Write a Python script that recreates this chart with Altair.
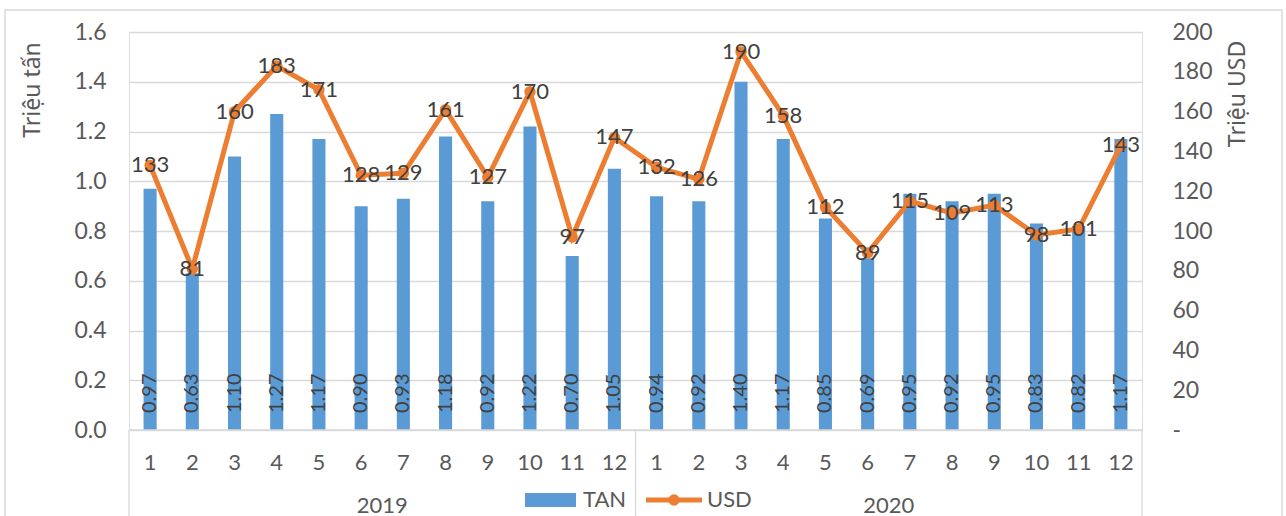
import altair as alt
import pandas as pd

# Monthly values, 2019-2020
months = ["1", "2", "3", "4", "5", "6", "7", "8", "9", "10", "11", "12",
          "1", "2", "3", "4", "5", "6", "7", "8", "9", "10", "11", "12"]
years = ["2019"] * 12 + ["2020"] * 12
tan = [0.97, 0.63, 1.10, 1.27, 1.17, 0.90, 0.93, 1.18, 0.92, 1.22, 0.70, 1.05,
       0.94, 0.92, 1.40, 1.17, 0.85, 0.69, 0.95, 0.92, 0.95, 0.83, 0.82, 1.17]
usd = [133, 81, 160, 183, 171, 128, 129, 161, 127, 170, 97, 147,
       132, 126, 190, 158, 112, 89, 115, 109, 113, 98, 101, 143]

left_ticks = [0.0, 0.2, 0.4, 0.6, 0.8, 1.0, 1.2, 1.4, 1.6]
right_ticks = [0, 20, 40, 60, 80, 100, 120, 140, 160, 180, 200]

df = pd.DataFrame({"idx": list(range(len(tan))), "month": months,
                   "year": years, "TAN": tan, "USD": usd})

W, H = 1013, 398
BLUE = "#5B9BD5"
ORANGE = "#ED7D31"
GRID = "#d9d9d9"
TEXT = "#404040"
AXIS_TEXT = "#595959"
FS = 22      # category and line labels
FS_TICK = 23 # value axis labels
FS_BAR = 20  # labels inside the bars
FS_TITLE = 23

x = alt.X("idx:O", axis=None, sort=None,
          scale=alt.Scale(paddingInner=0.69, paddingOuter=0.345))

base = alt.Chart(df)

# --- bars (left axis, million tonnes) ---
y_tan = alt.Y(
    "TAN:Q",
    scale=alt.Scale(domain=[0, 1.6], nice=False, zero=True),
    axis=alt.Axis(values=left_ticks, format=".1f", title=None,
                  grid=True, gridColor=GRID, gridWidth=1.3),
)
bars = base.mark_bar(color=BLUE).encode(x=x, y=y_tan)
bar_labels = base.mark_text(angle=270, align="left", baseline="middle", dx=17,
                            fontSize=FS_BAR, color=TEXT).encode(
    x=x, y=alt.datum(0), text=alt.Text("TAN:Q", format=".2f"))
tan_layer = alt.layer(bars, bar_labels)

# --- line (right axis, million USD) ---
y_usd = alt.Y(
    "USD:Q",
    scale=alt.Scale(domain=[0, 200], nice=False, zero=True),
    axis=alt.Axis(orient="right", values=right_ticks, grid=False,
                  labelExpr="datum.value == 0 ? '-' : datum.label",
                  title=None),
)
line = base.mark_line(color=ORANGE, strokeWidth=5).encode(x=x, y=y_usd)
pts = base.mark_point(filled=True, size=130, opacity=1, color=ORANGE).encode(
    x=x, y=y_usd)
usd_labels = base.mark_text(fontSize=FS, color=TEXT, baseline="middle",
                            align="center").encode(
    x=x, y=y_usd, text="USD:Q")
usd_layer = alt.layer(line, pts, usd_labels)

# --- two-level category axis: months, years and the frame lines ---
month_text = base.mark_text(fontSize=FS, color=AXIS_TEXT, baseline="middle").encode(
    x=x, y=alt.value(H + 33), text="month:N")

one = pd.DataFrame({"k": [0]})
frame = alt.Chart(one)
axis_line = frame.mark_rule(color=GRID, strokeWidth=1.3).encode(
    x=alt.value(0), x2=alt.value(W), y=alt.value(H))
sep_lines = [frame.mark_rule(color=GRID, strokeWidth=1.3).encode(
    x=alt.value(px), y=alt.value(H), y2=alt.value(H + 120))
    for px in (0, W / 2, W)]
year_text = [frame.mark_text(fontSize=FS, color=AXIS_TEXT, baseline="middle").encode(
    x=alt.value(px), y=alt.value(H + 76), text=alt.value(label))
    for px, label in ((W / 4, "2019"), (3 * W / 4, "2020"))]

# axis titles, rotated and placed near the top of each value axis
titles = [frame.mark_text(fontSize=FS_TITLE, color=AXIS_TEXT, angle=270,
                          font="Noto Sans", align="center", baseline="middle").encode(
    x=alt.value(px), y=alt.value(py), text=alt.value(label))
    for px, py, label in ((-96, 58, "Triệu tấn"), (W + 96, 62, "Triệu USD"))]

# legend
leg_y = H + 70
leg_tan_box = frame.mark_rect(color=BLUE).encode(
    x=alt.value(396), x2=alt.value(447), y=alt.value(leg_y - 7), y2=alt.value(leg_y + 7))
leg_tan_txt = frame.mark_text(fontSize=FS, color=AXIS_TEXT, align="left",
                              baseline="middle").encode(
    x=alt.value(454), y=alt.value(leg_y), text=alt.value("TAN"))
leg_usd_line = frame.mark_rule(color=ORANGE, strokeWidth=5).encode(
    x=alt.value(517), x2=alt.value(573), y=alt.value(leg_y))
leg_usd_pt = frame.mark_point(filled=True, size=130, opacity=1, color=ORANGE).encode(
    x=alt.value(545), y=alt.value(leg_y))
leg_usd_txt = frame.mark_text(fontSize=FS, color=AXIS_TEXT, align="left",
                              baseline="middle").encode(
    x=alt.value(578), y=alt.value(leg_y), text=alt.value("USD"))

# outer chart border
border = frame.mark_rect(fillOpacity=0, stroke=GRID, strokeWidth=1.5).encode(
    x=alt.value(-124), x2=alt.value(1153), y=alt.value(-22), y2=alt.value(600))

chart = alt.layer(
    border, tan_layer, usd_layer, month_text, axis_line, *sep_lines, *year_text,
    *titles, leg_tan_box, leg_tan_txt, leg_usd_line, leg_usd_pt, leg_usd_txt,
).resolve_scale(y="independent").properties(
    width=W, height=H,
    autosize=alt.AutoSizeParams(type="none"),
    padding={"left": 129, "top": 32, "right": 144, "bottom": 86},
    background="white",
).configure_view(stroke=None).configure(font="Lato").configure_axis(
    ticks=False, domain=False, labelFontSize=FS_TICK, labelColor=AXIS_TEXT,
).configure_axisLeft(
    labelPadding=23,
).configure_axisRight(
    labelPadding=30,
)

chart.save("out.html", embed_options={"renderer": "svg", "actions": False})
